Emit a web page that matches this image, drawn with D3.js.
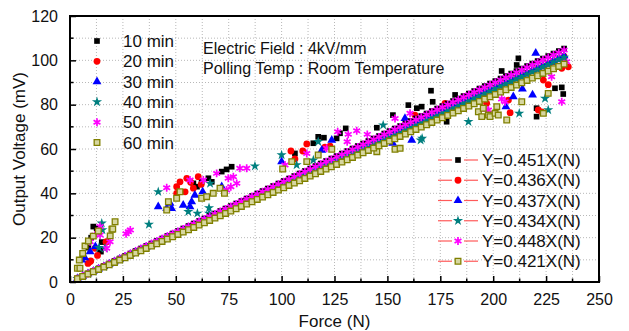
<!DOCTYPE html>
<html><head><meta charset="utf-8">
<script src="https://cdn.jsdelivr.net/npm/d3@7"></script>
<style>body{margin:0;background:#fff}svg{display:block}text{font-family:"Liberation Sans",Arial,sans-serif;fill:#111}</style>
</head><body><svg id="c" width="629" height="331"></svg>
<script>
const seriesNames = ["10 min","20 min","30 min","40 min","50 min","60 min"];
const slopes = [0.451,0.436,0.437,0.434,0.448,0.421];
const fitLabels = ["Y=0.451X(N)","Y=0.436X(N)","Y=0.437X(N)","Y=0.434X(N)","Y=0.448X(N)","Y=0.421X(N)"];
const xTicks = [0,25,50,75,100,125,150,175,200,225,250];
const yTicks = [0,20,40,60,80,100,120];
const fitForces = [3.5,6,8.5,11,13.5,16,18.5,21,23.5,26,28.5,31,33.5,36,38.5,41,43.5,46,48.5,51,53.5,56,58.5,61,63.5,66,68.5,71,73.5,76,78.5,81,83.5,86,88.5,91,93.5,96,98.5,101,103.5,106,108.5,111,113.5,116,118.5,121,123.5,126,128.5,131,133.5,136,138.5,141,143.5,146,148.5,151,153.5,156,158.5,161,163.5,166,168.5,171,173.5,176,178.5,181,183.5,186,188.5,191,193.5,196,198.5,201,203.5,206,208.5,211,213.5,216,218.5,221,223.5,226,228.5,231,233.5];

const data10 = [[11,25],[12.6,24.2],[8.7,15.5],[14.2,14.4],[15,18],[14.6,13.7],[10,20],[6,13],
 [58.3,44.5],[62.2,45.2],[65.4,46.8],[67,45.2],[71.7,49.8],[74,50.8],[76.4,52],[60,43],
 [106.3,58],[115,62.6],[117.3,65.5],[120,65.1],[126,64.8],[127.6,67.1],[130.3,69.3],[145,69.6],[152.6,75.3],
 [159.9,79.8],[163.9,78.4],[166.2,79.1],[170.6,86.3],[171.4,81.3],[178,72.3],[182,84.4],[204,95.2],[211.1,97.9],[211.9,100.9],[220.5,74.6],[220.5,78.4],[229.2,87.4],[232.4,87.8],[233.1,84.8]];
const data20 = [[9.5,9.2],[8.5,8.4],[9.8,9.5],[11.8,15.2],[17.3,18.2],[17,18],[13,12],
 [50.4,43],[52,45.2],[55.2,46.8],[60.6,47.5],[54.4,40.7],[58.3,42.3],[50.4,40],[57,45],[62,44],
 [104.4,59.1],[106.3,55.5],[110,59.1],[111.9,62.3],[120.5,60.8],[122.9,61.3],
 [163,75.3],[177.2,80.6],[196.9,80.6],[207.2,82.1],[208,76.4],[221.3,77.6],[222.9,76.8],[223.7,91.1],[226,89],[228.4,99.4],[232.4,96.4],[235.5,97.1]];
const data30 = [[9.5,13.7],[5.5,9.9],[7,11],[12,16],
 [41.7,34],[45.7,33.2],[47.3,35.5],[48,33.2],[53.5,34.7],[56.7,34],[57.5,36.2],[59,39.2],[62.7,40.7],[71.7,43],
 [100,54.3],[119,59.5],[123.7,64],[152.5,62.6],
 [158.3,73.8],[161.5,64],[206,79.1],[209.5,83.6],[213.8,87.1],[218.6,84.4],[220.1,103.2]];
const data40 = [[15,26.5],[15.3,23.5],[16.5,15.2],[13.7,15.5],[37.3,26],
 [41.7,40.7],[55.9,31.7],[60.2,31],[65.7,33.4],[65.7,31],[66.2,44.5],[87.4,52.3],
 [100,57.3],[107.1,52.8],[115,55],[117.3,63.3],[148,70.8],
 [165.7,64],[166.4,64.8],[188.3,72.3],[212.3,76.1],[224.5,82.8],[226,77.6]];
const data50 = [[9.5,18.2],[11.8,21.2],[14.2,21.2],[14.2,25],[17.3,15.2],[18.9,18.2],[27.6,22.7],[28.5,23.5],[26.5,21.8],
 [45.7,42.5],[56.7,46],[63,46],[69.3,49],[74,41.5],[74.8,46.8],[77.2,47.5],[78.8,44.5],[80.3,51.3],[83.5,51.3],[76,43],
 [101.6,52.8],[111.9,58],[121.3,60.3],[126.5,67.8],[131,63.3],[131.5,66.6],[135.5,68.2],[140.5,66.6],[153.6,73.8],
 [160.7,76.1],[185.1,79.8],[196.5,77.9],[197.7,77.6],[204,82.6],[205.6,81.3],[227.6,92.6],[232.4,81.3],[234.7,99.4]];
const data60 = [[3.5,6.2],[4.4,9.9],[6,12.9],[7.1,16.2],[8.7,18.5],[11,20.7],[13.4,23],[19,20.8],[19.8,23.8],[20.2,23.9],[21.3,27.2],[4.7,6.2],
 [45.7,32.5],[46.5,36.2],[50.4,37.8],[52,40.7],[62.2,37.8],[64.6,38.5],[67.7,40],[70.9,42.3],[73,40],
 [100.5,51],[104.8,54.3],[111.9,54.3],[117.3,57.3],[123.7,59.9],[145,58.8],[153.6,59.9],
 [156,60.3],[193,76.8],[194.6,74.6],[195.3,78.4],[197.7,75.3],[198.5,74.6],[200.9,76.1],[201.7,79.1],[202.4,75.3],[206.4,73.1],[213.5,81.3],[223.7,76.1],[226,85.1]];
const measured = [data10,data20,data30,data40,data50,data60];

const colors = ["#000000","#ff0000","#0000ff","#007f7f","#ff00ff","#808000"];

const svg = d3.select("#c");
const L=70,R=599,T=16,B=282;
const x = d3.scaleLinear().domain([0,250]).range([L,R]);
const y = d3.scaleLinear().domain([0,120]).range([B,T]);

// grid
const xGrid = d3.range(12.5,250,12.5);
const yGrid = d3.range(10,120,10);
const g = svg.append("g");
g.selectAll(".gx").data(xGrid).join("line").attr("x1",d=>x(d)).attr("x2",d=>x(d)).attr("y1",T).attr("y2",B)
 .attr("stroke","#b8b8b8").attr("stroke-dasharray","1,2");
g.selectAll(".gy").data(yGrid).join("line").attr("y1",d=>y(d)).attr("y2",d=>y(d)).attr("x1",L).attr("x2",R)
 .attr("stroke","#b8b8b8").attr("stroke-dasharray","1,2");

function marker(sel, i){
  const c = colors[i];
  if(i===0) sel.attr("d", d3.symbol(d3.symbolSquare, 32)()).attr("fill",c);
  else if(i===1) sel.attr("d", d3.symbol(d3.symbolCircle, 36)()).attr("fill",c);
  else if(i===2) sel.attr("d", d3.symbol(d3.symbolTriangle, 34)()).attr("fill",c);
  else if(i===3) sel.attr("d", d3.symbol(d3.symbolStar, 32)()).attr("fill",c);
  else if(i===4) sel.attr("d", d3.symbol(d3.symbolAsterisk, 44)()).attr("fill","none").attr("stroke",c).attr("stroke-width",1.7);
  else sel.attr("d", d3.symbol(d3.symbolSquare, 32)()).attr("fill","#d6d6a0").attr("stroke",c).attr("stroke-width",1.3);
}

// measured scatter
measured.forEach((ds,i)=>{
  svg.append("g").selectAll("path").data(ds).join("path")
    .attr("transform",d=>`translate(${x(d[0])},${y(d[1])})`).call(s=>marker(s,i));
});
// fit lines with markers
slopes.forEach((k,i)=>{
  const pts = fitForces.map(f=>[f,k*f]);
  svg.append("path").datum(pts).attr("d",d3.line().x(d=>x(d[0])).y(d=>y(d[1])))
    .attr("stroke","#ff5a5a").attr("stroke-width",1).attr("fill","none");
  svg.append("g").selectAll("path").data(pts).join("path")
    .attr("transform",d=>`translate(${x(d[0])},${y(d[1])})`).call(s=>marker(s,i));
});

// axes ticks (inward)
const ax = svg.append("g").attr("transform",`translate(0,${B})`)
  .call(d3.axisBottom(x).tickValues(xTicks).tickSize(-6).tickPadding(12).tickFormat(d3.format("d")));
ax.select(".domain").remove();
ax.selectAll("text").attr("font-size",16).attr("font-family","Liberation Sans, Arial");
ax.selectAll("line").attr("stroke","#000").attr("stroke-width",1.5);
svg.append("g").selectAll("line").data(xGrid.filter((d,i)=>i%2===0)).join("line")
  .attr("x1",d=>x(d)).attr("x2",d=>x(d)).attr("y1",B).attr("y2",B-3.5).attr("stroke","#000").attr("stroke-width",1.5);
const ay = svg.append("g").attr("transform",`translate(${L},0)`)
  .call(d3.axisLeft(y).tickValues(yTicks).tickSize(-6).tickPadding(12).tickFormat(d3.format("d")));
ay.select(".domain").remove();
ay.selectAll("text").attr("font-size",16).attr("font-family","Liberation Sans, Arial");
ay.selectAll("line").attr("stroke","#000").attr("stroke-width",1.5);
svg.append("g").selectAll("line").data(yGrid.filter((d,i)=>i%2===0)).join("line")
  .attr("y1",d=>y(d)).attr("y2",d=>y(d)).attr("x1",L).attr("x2",L+3.5).attr("stroke","#000").attr("stroke-width",1.5);

// frame
svg.append("rect").attr("x",L).attr("y",T).attr("width",R-L).attr("height",B-T)
  .attr("fill","none").attr("stroke","#000").attr("stroke-width",2);

// axis titles
svg.append("text").attr("x",(L+R)/2).attr("y",327).attr("text-anchor","middle").attr("font-size",17).text("Force (N)");
svg.append("text").attr("transform",`translate(25,${(T+B)/2}) rotate(-90)`).attr("text-anchor","middle").attr("font-size",17).text("Output Voltage (mV)");

// annotations
svg.append("text").attr("x",203).attr("y",54).attr("font-size",16).text("Electric Field : 4kV/mm");
svg.append("text").attr("x",203).attr("y",74).attr("font-size",16).text("Polling Temp : Room Temperature");

// legend 1
seriesNames.forEach((n,i)=>{
  const yy = 41 + i*20.3;
  svg.append("path").attr("transform",`translate(97,${yy})`).call(s=>marker(s,i));
  svg.append("text").attr("x",123).attr("y",yy+6).attr("font-size",17).text(n);
});
// legend 2
fitLabels.forEach((t,i)=>{
  const yy = 160 + i*20.25;
  svg.append("line").attr("x1",438).attr("x2",452).attr("y1",yy).attr("y2",yy).attr("stroke","#ff5a5a").attr("stroke-width",1.2);
  svg.append("line").attr("x1",464).attr("x2",478).attr("y1",yy).attr("y2",yy).attr("stroke","#ff5a5a").attr("stroke-width",1.2);
  svg.append("path").attr("transform",`translate(458,${yy})`).call(s=>marker(s,i));
  svg.append("text").attr("x",482).attr("y",yy+6).attr("font-size",17).text(t);
});
</script></body></html>
